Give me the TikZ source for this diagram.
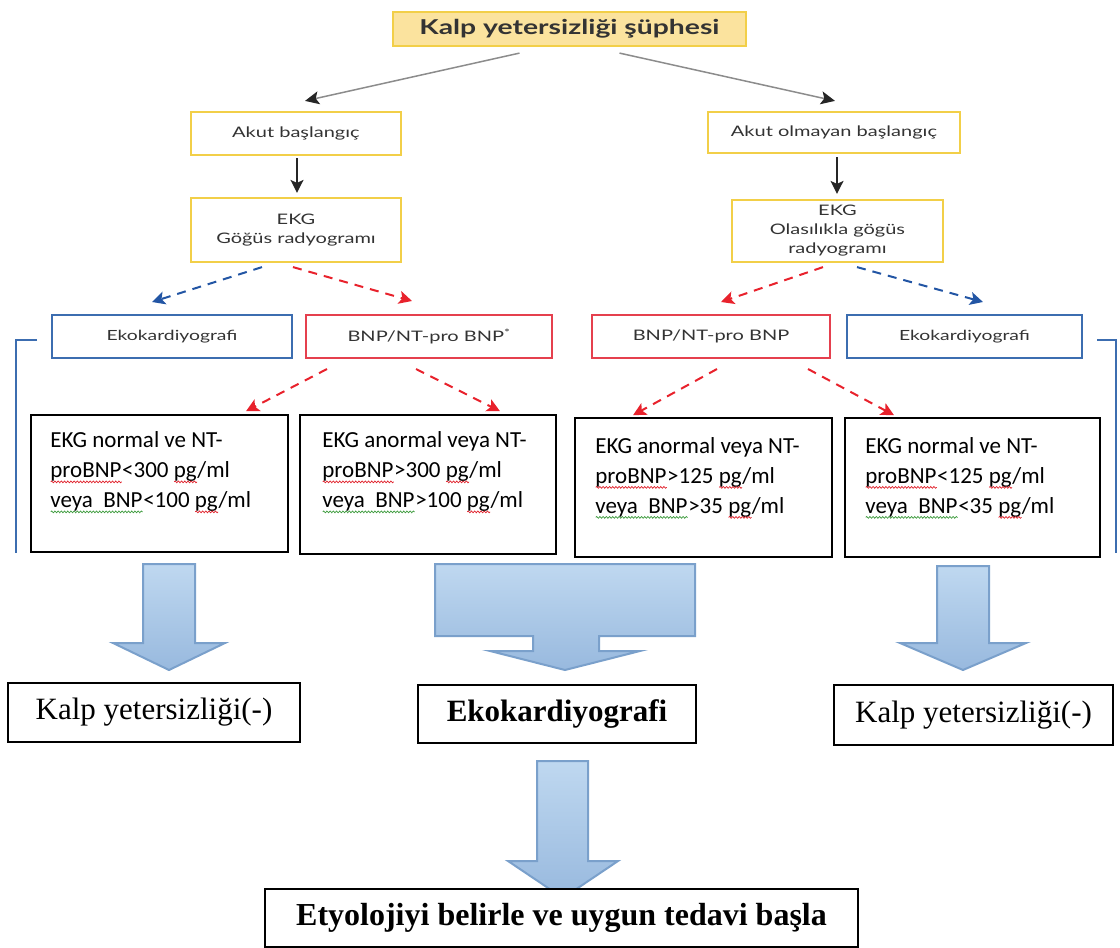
\documentclass[tikz,border=0pt]{standalone}
\usepackage{fontspec}
\usetikzlibrary{arrows.meta,calc,decorations.pathmorphing}
\setmainfont{Liberation Serif}
\newfontfamily\gillfont[FakeStretch=1.38]{Lato}
\newfontfamily\calfont{Carlito}

\definecolor{ylw}{HTML}{F2CF48}
\definecolor{ylwfill}{HTML}{FBE39E}
\definecolor{boxblue}{HTML}{3C6DB0}
\definecolor{boxred}{HTML}{E5404E}
\definecolor{dashblue}{HTML}{2255A4}
\definecolor{dashred}{HTML}{E8222C}
\definecolor{arrtop}{HTML}{BFD8F0}
\definecolor{arrbot}{HTML}{98B9DE}
\definecolor{arrline}{HTML}{7AA0CB}
\definecolor{txtgray}{HTML}{333333}
\definecolor{spellred}{HTML}{E0202A}
\definecolor{spellgrn}{HTML}{3C9A3C}

% wavy proofing underline: #1 colour, #2 text
\newlength\wavelen
\newcommand\wavy[2]{%
  \settowidth\wavelen{#2}%
  \rlap{#2}\tikz[baseline=0pt, x=1pt, y=1pt]{%
    \draw[#1, line width=0.7, decorate,
      decoration={snake, amplitude=0.9pt, segment length=3.2pt}]
      (0,-4) -- (\wavelen,-4);
    \useasboundingbox (0,0) rectangle (\wavelen,0);}}
\newcommand\redwave[1]{\wavy{spellred}{#1}}
\newcommand\grnwave[1]{\wavy{spellgrn}{#1}}

\tikzset{
  topbox/.style={draw=ylw, fill=ylwfill, line width=2.2, inner sep=0,
    text=txtgray, font=\gillfont\bfseries\fontsize{20.5}{24}\selectfont},
  ybox/.style={draw=ylw, line width=2.2, inner sep=0, align=center,
    text=txtgray, font=\gillfont\fontsize{14.5}{19}\selectfont},
  bluebox/.style={draw=boxblue, line width=2, inner sep=0, minimum height=43,
    text=txtgray, font=\gillfont\fontsize{14}{19}\selectfont},
  redbox/.style={draw=boxred, line width=2, inner sep=0, minimum height=43,
    text=txtgray, font=\gillfont\fontsize{14.5}{19}\selectfont},
  calbox/.style={draw=black, line width=1.6, inner sep=0},
  caltext/.style={anchor=north west, inner sep=0, align=left,
    font=\calfont\fontsize{23}{30}\selectfont},
  tbox/.style={draw=black, line width=1.6, fill=white, inner sep=0,
    font=\fontsize{31}{36}\selectfont},
  bigarrow/.style={top color=arrtop, bottom color=arrbot, draw=arrline,
    line width=2, line join=miter},
  grayarr/.style={draw=black!45, line width=1.5,
    -{Stealth[length=14, width=13, inset=3, color=black!85]}},
  blkarr/.style={draw=black!85, line width=1.5,
    -{Stealth[length=13, width=13, inset=3]}},
  bluedash/.style={draw=dashblue, line width=2, dash pattern=on 9pt off 7pt,
    -{Stealth[length=13, width=13, inset=3]}},
  reddash/.style={draw=dashred, line width=2, dash pattern=on 9pt off 7pt,
    -{Stealth[length=13, width=13, inset=3]}},
  bracket/.style={draw=boxblue, line width=2}
}

\begin{document}
\begin{tikzpicture}[x=1pt, y=-1pt]
\useasboundingbox (0,0) rectangle (1120,948);

% top level
\node[topbox, minimum width=353, minimum height=34] (top) at (569.5,29) {Kalp yetersizliği şüphesi};

% onset branches
\node[ybox, minimum width=210, minimum height=43] (akutL) at (296,133.5) {Akut başlangıç};
\node[ybox, minimum width=210, minimum height=64] (ekgL) at (296,230) {EKG\\Göğüs radyogramı};
\node[ybox, minimum width=252, minimum height=41] (akutR) at (834,132.5) {Akut olmayan başlangıç};
\node[ybox, minimum width=211, minimum height=62] (ekgR) at (837.5,231) {EKG\\Olasılıkla gögüs\\radyogramı};

% tests
\node[bluebox, minimum width=240] (ekoL) at (172,336.5) {Ekokardiyografi};
\node[redbox, minimum width=246] (bnpL) at (429,336.5) {BNP/NT-pro BNP\textsuperscript{*}};
\node[redbox, minimum width=238] (bnpR) at (711,336.5) {BNP/NT-pro BNP};
\node[bluebox, minimum width=235] (ekoR) at (964.5,336.5) {Ekokardiyografi};

% side brackets
\draw[bracket] (37,340) -- (16,340) -- (16,553);
\draw[bracket] (1097,340) -- (1116,340) -- (1116,553);

% result boxes
\node[calbox, minimum width=257, minimum height=137] (c1) at (159.5,483.5) {};
\node[calbox, minimum width=256, minimum height=139] (c2) at (428,484.5) {};
\node[calbox, minimum width=257, minimum height=139] (c3) at (703.5,487.5) {};
\node[calbox, minimum width=255, minimum height=139] (c4) at (972.5,487.5) {};

\node[caltext] (t1) at ([shift={(20,17.5)}]c1.north west)
  {EKG normal ve NT-\\\redwave{proBNP}<300 \redwave{pg}/ml\\\grnwave{veya\ \ BNP}<100 \redwave{pg}/ml};
\node[caltext] (t2) at ([shift={(23,17.5)}]c2.north west)
  {EKG anormal veya NT-\\\redwave{proBNP}>300 \redwave{pg}/ml\\\grnwave{veya\ \ BNP}>100 \redwave{pg}/ml};
\node[caltext] (t3) at ([shift={(21,20)}]c3.north west)
  {EKG anormal veya NT-\\\redwave{proBNP}>125 \redwave{pg}/ml\\\grnwave{veya\ \ BNP}>35 \redwave{pg}/ml};
\node[caltext] (t4) at ([shift={(21,20)}]c4.north west)
  {EKG normal ve NT-\\\redwave{proBNP}<125 \redwave{pg}/ml\\\grnwave{veya\ \ BNP}<35 \redwave{pg}/ml};

% connectors
\draw[grayarr] ($(top.south)+(-50,6)$) -- ($(akutL.north)+(9,-10)$);
\draw[grayarr] ($(top.south)+(50,6)$) -- ($(akutR.north)+(1,-10)$);
\draw[blkarr] ($(akutL.south)+(1,2)$) -- ($(ekgL.north)+(1,-4)$);
\draw[blkarr] ($(akutR.south)+(3,3)$) -- ($(ekgR.north)+(-0.5,-5)$);

\draw[bluedash] ($(ekgL.south)+(-34,4)$) -- ($(ekoL.north)+(-20,-12)$);
\draw[reddash]  ($(ekgL.south)+(-3,4)$) -- ($(bnpL.north)+(-17,-13)$);
\draw[reddash]  ($(ekgR.south)+(-14.5,4)$) -- ($(bnpR.north)+(10,-12)$);
\draw[bluedash] ($(ekgR.south)+(19.5,4)$) -- ($(ekoR.north)+(18.5,-12)$);

\draw[reddash] ($(bnpL.south)+(-102,10)$) -- ($(c1.north)+(86.5,-3)$);
\draw[reddash] ($(bnpL.south)+(-13,10)$) -- ($(c2.north)+(72,-3)$);
\draw[reddash] ($(bnpR.south)+(6,10)$) -- ($(c3.north)+(-70.5,-2)$);
\draw[reddash] ($(bnpR.south)+(97,10)$) -- ($(c4.north)+(-78.5,-2)$);

% block arrows
\draw[bigarrow] (143,564) -- (195,564) -- (195,643) -- (225,643) -- (169,670)
  -- (113,643) -- (143,643) -- cycle;
\draw[bigarrow] (435,564) -- (695,564) -- (695,636) -- (599,636) -- (599,651)
  -- (640,651) -- (565,670) -- (490,651) -- (533,651) -- (533,636)
  -- (435,636) -- cycle;
\draw[bigarrow] (937,566) -- (989,566) -- (989,643) -- (1026,643) -- (963,670)
  -- (900,643) -- (937,643) -- cycle;
\draw[bigarrow] (537,761) -- (588,761) -- (588,861) -- (618,861) -- (563,898)
  -- (508,861) -- (537,861) -- cycle;

% outcomes
\node[tbox, minimum width=292, minimum height=59] (noL) at (154,712.5) {Kalp yetersizliği(-)};
\node[tbox, minimum width=278, minimum height=58, font=\bfseries\fontsize{31}{36}\selectfont] (eko2) at (557,714) {Ekokardiyografi};
\node[tbox, minimum width=279, minimum height=60] (noR) at (973.5,715) {Kalp yetersizliği(-)};
\node[tbox, minimum width=593, minimum height=58, font=\bfseries\fontsize{32}{36}\selectfont] (final) at (561.5,918) {Etyolojiyi belirle ve uygun tedavi başla};
\end{tikzpicture}
\end{document}
